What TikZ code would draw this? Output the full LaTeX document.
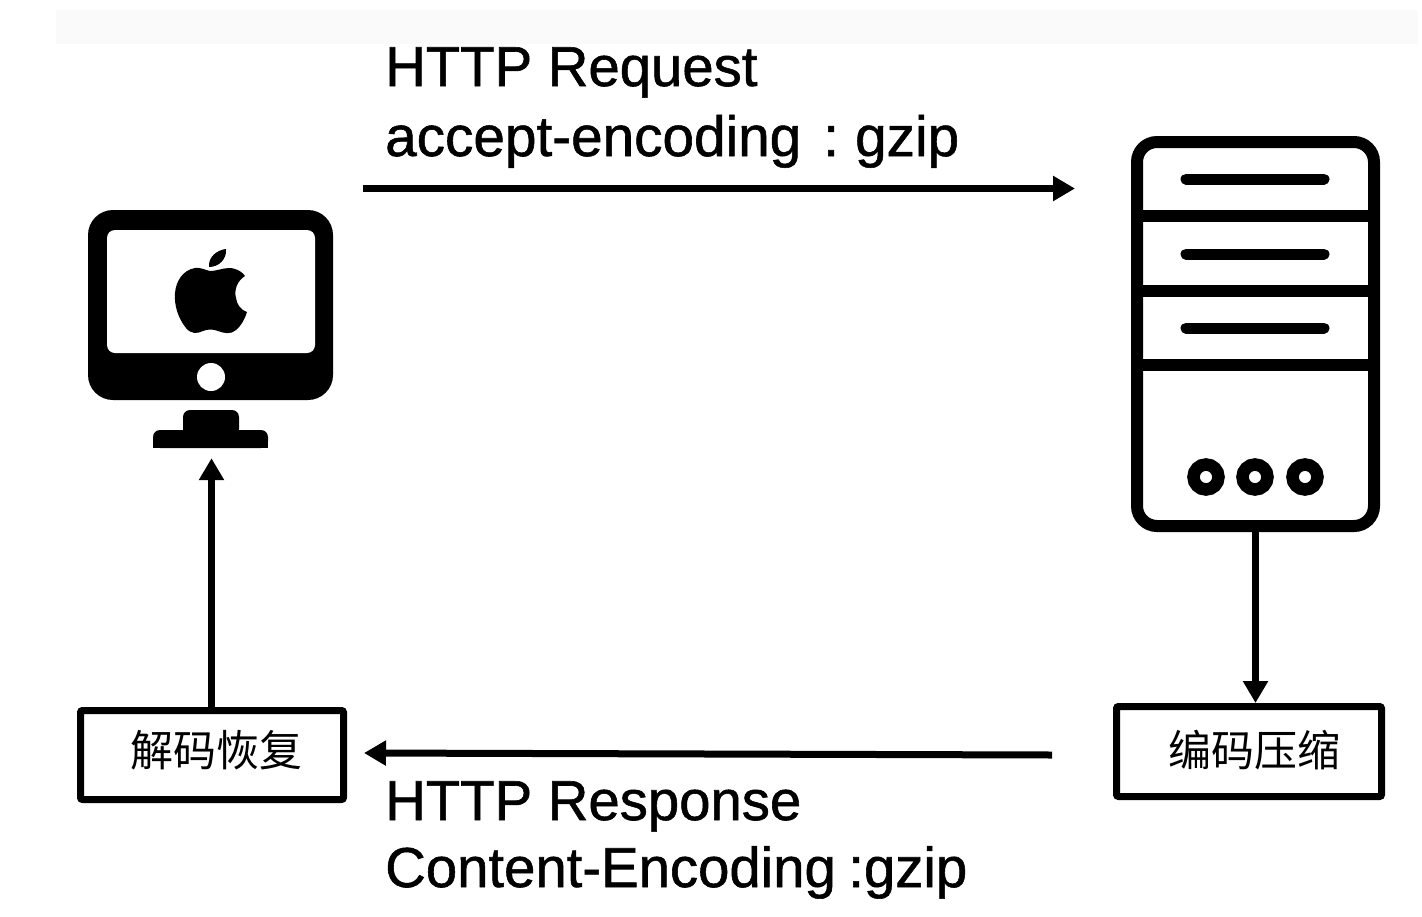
\documentclass[tikz,border=0pt]{standalone}
\usepackage{fontspec}
\usetikzlibrary{arrows.meta}
\setmainfont{Liberation Sans}
\newfontfamily\lblfont[RawFeature={embolden=1}]{Liberation Sans}
\newfontfamily\cjk{Noto Sans CJK SC}
\tikzset{
  px/.style={x=1pt,y=-1pt},
  lbl/.style={anchor=base west,inner sep=0pt,font=\lblfont\fontsize{56.3}{60}\selectfont,text=black},
  cjklbl/.style={font=\cjk\fontsize{43}{48}\selectfont,text=black},
  framebox/.style={draw=black,line width=7pt,fill=white,inner sep=0pt,rounded corners=2pt},
  anchorbox/.style={inner sep=0pt},
  flow/.style={line width=7pt,draw=black,-{Triangle[length=22pt,width=24pt]}},
  ink/.style={fill=black,draw=none},
  srvline/.style={draw=black,line width=12pt},
  srvslot/.style={draw=black,line width=11pt,line cap=round},
  srvdot/.style={draw=black,line width=12.5pt,fill=white}
}
\begin{document}
\begin{tikzpicture}[px]
\useasboundingbox (0,0) rectangle (1422,916);
\fill[white] (0,0) rectangle (1422,916);
\fill[black!2] (56,10) rectangle (1418,44);
% client monitor
\node[anchorbox,minimum width=245pt,minimum height=238pt] (mac) at (210.5,329) {};
\fill[ink,rounded corners=25pt] (88,210) rectangle (333,400);
\fill[white,rounded corners=8pt] (107,230) rectangle (315,353);
\fill[white] (211,377) circle (14);
\fill[ink,rounded corners=7pt] (183,436) -- (183,410) -- (239,410) -- (239,436) -- cycle;
\fill[ink,rounded corners=7pt] (153,448) -- (153,430) -- (268,430) -- (268,448) -- cycle;
\fill[black] (153,440) rectangle (268,448);
% apple
\fill[ink] (210,271) .. controls (218,271) and (227,266) .. (235,269)
  .. controls (239,270) and (243,273) .. (245,276)
  .. controls (237,281) and (234,290) .. (236,298)
  .. controls (237,305) and (241,310) .. (247,312)
  .. controls (245,319) and (241,326) .. (236,330)
  .. controls (231,335) and (223,333) .. (218,331)
  .. controls (213,329) and (208,329) .. (203,331)
  .. controls (197,334) and (191,334) .. (186,328)
  .. controls (178,318) and (174,305) .. (175,293)
  .. controls (176,281) and (183,270) .. (195,268)
  .. controls (200,267) and (205,270) .. (210,271) -- cycle;
\fill[ink] (209,267) .. controls (208,257) and (217,250) .. (226,249)
  .. controls (227,259) and (219,267) .. (209,267) -- cycle;
% server
\node[anchorbox,minimum width=249pt,minimum height=396pt] (srv) at (1255.5,334) {};
\draw[draw=black,line width=12pt,rounded corners=20pt] (1137,142) rectangle (1374,526);
\draw[srvline] (1137,216) -- (1374,216);
\draw[srvline] (1137,291) -- (1374,291);
\draw[srvline] (1137,365) -- (1374,365);
\draw[srvslot] (1186,179) -- (1324,179);
\draw[srvslot] (1186,254) -- (1324,254);
\draw[srvslot] (1186,328) -- (1324,328);
\draw[srvdot] (1206,477) circle (12.5);
\draw[srvdot] (1255,477) circle (12.5);
\draw[srvdot] (1305,477) circle (12.5);
% boxes
\node[framebox,minimum width=263pt,minimum height=89pt] (dec) at (212,755) {};
\node[framebox,minimum width=265pt,minimum height=90pt] (enc) at (1249,751.5) {};
\node[cjklbl] (dect) at (216.5,750) {解码恢复};
\node[cjklbl] (enct) at (1254,750) {编码压缩};
% free ends
\coordinate (reqa) at (363,188.5);
\coordinate (reqb) at (1075,188.5);
\coordinate (resa) at (1052,755);
\coordinate (resb) at (364,753);
% connectors
\draw[flow] (reqa) -- (reqb);
\draw[flow] (resa) -- (resb);
\draw[flow] (srv.south -| 1255.5,0) -- (enc.north -| 1255.5,0);
\draw[flow,shorten >=10pt] (dec.north -| 211.5,0) -- (mac.south -| 211.5,0);
% labels
\node[lbl] (t1) at (385,86) {HTTP Request};
\node[lbl,font=\lblfont\fontsize{56.7}{60}\selectfont] (t2) at (385,156) {accept-encoding\hspace{22pt}:\hspace{16.2pt}gzip};
\node[lbl] (t3) at (385,820) {HTTP Response};
\node[lbl] (t4) at (385,887) {Content-Encoding\hspace{12.5pt}:gzip};
\end{tikzpicture}
\end{document}
